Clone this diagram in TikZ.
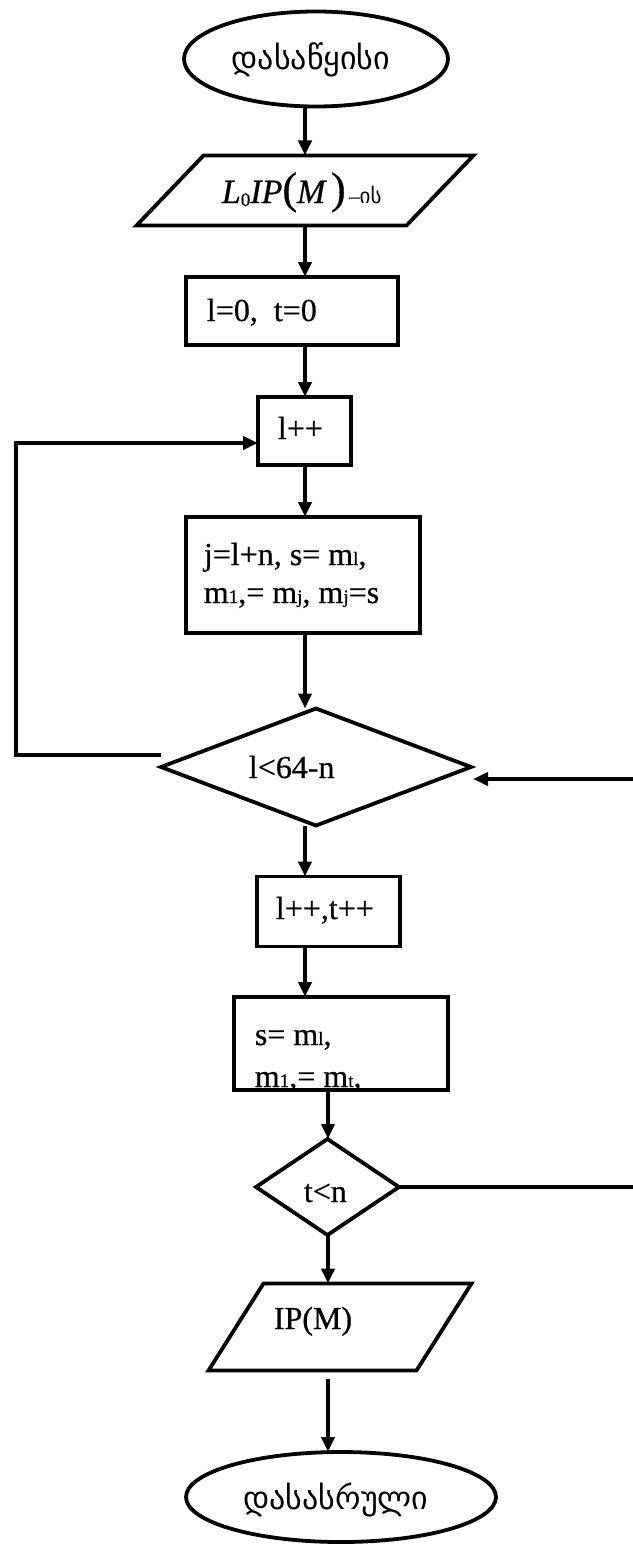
\documentclass[tikz,border=0pt]{standalone}
\usepackage{fontspec}
\setmainfont{Liberation Serif}[FakeBold=0.6]
\newfontfamily\geo{DejaVu Sans}
\usetikzlibrary{shapes.geometric,arrows.meta,calc}
\begin{document}
\begin{tikzpicture}[x=1pt,y=-1pt,
  line width=3.8pt,
  shp/.style={inner sep=0pt, outer sep=0pt, line width=3.8pt},
  box/.style={shp, draw, rectangle},
  term/.style={shp, draw, ellipse},
  dec/.style={shp, draw, diamond},
  ghost/.style={shp, rectangle},
  arr/.style={-{Triangle[length=15pt,width=13pt]}, line width=3.8pt},
  lbl/.style={inner sep=0pt, font=\fontsize{32}{36}\selectfont},
  glbl/.style={inner sep=0pt, font=\geo\fontsize{32}{34}\selectfont},
]
\useasboundingbox (0,0) rectangle (632,1544);
\fill[white] (0,0) rectangle (632,1544);

\def\sm#1{{\fontsize{19}{19}\selectfont #1}}

% spines
\coordinate (s1) at (305,0);
\coordinate (s2) at (328,0);
\coordinate (loopL) at (16,0);
\coordinate (loopR) at (650,0);

% shapes
\node[term, minimum width=264pt, minimum height=95pt] (start) at (316,59) {};
\node[glbl] (tstart) at (311,60) {დასაწყისი};

\node[ghost, minimum width=337pt, minimum height=70pt] (p1) at (305,190.5) {};
\draw[line join=miter] (p1.south west) -- ($(p1.north west)+(67,0)$) -- (p1.north east) -- ($(p1.south east)+(-67,0)$) -- cycle;
\node[lbl, anchor=base west, font=\fontsize{34}{36}\selectfont] (tp1) at (220,203) {\itshape L\raisebox{-3pt}{\upshape\sm{0}}IP\upshape{\fontsize{44}{44}\selectfont(}\itshape M\,\upshape{\fontsize{44}{44}\selectfont)}{\fontsize{21}{21}\selectfont\,–{\geo ის}}};

\node[box, minimum width=212pt, minimum height=68pt] (b1) at (292,311) {};
\node[lbl, anchor=base west] (tb1) at (205,321) {l=0,\ \ t=0};

\node[box, minimum width=93pt, minimum height=68pt] (b2) at (304.5,431) {};
\node[lbl, anchor=base west] (tb2) at (276,439) {l++};

\node[box, minimum width=234pt, minimum height=116pt] (b3) at (303,575) {};
\node[lbl, anchor=base west] (tb3a) at (202,565) {j=l+n, s= m\sm{l},};
\node[lbl, anchor=base west] (tb3b) at (202,603) {m\sm{1},= m\sm{j}, m\sm{j}=s};

\node[dec, minimum width=310pt, minimum height=117pt] (d1) at (316,767) {};
\node[lbl, anchor=base west] (td1) at (247,778) {l<64-n};

\node[box, minimum width=143pt, minimum height=70pt] (b4) at (328.5,911.5) {};
\node[lbl, anchor=base west] (tb4) at (274,919) {l++,t++};

\node[box, minimum width=214pt, minimum height=93pt] (b5) at (341,1043.5) {};
\begin{scope}
\clip ($(b5.south west)+(2,-2)$) rectangle ($(b5.north east)+(-2,2)$);
\node[lbl, anchor=base west] (tb5a) at (253,1045) {s= m\sm{l},};
\node[lbl, anchor=base west] (tb5b) at (253,1087) {m\sm{1},= m\sm{t},};
\end{scope}

\node[dec, minimum width=143pt, minimum height=96pt] (d2) at (327.5,1187) {};
\node[lbl, anchor=base west] (td2) at (302,1202) {t<n};

\node[ghost, minimum width=263pt, minimum height=87pt] (p2) at (340,1327) {};
\draw[line join=miter] (p2.south west) -- ($(p2.north west)+(55,0)$) -- (p2.north east) -- ($(p2.south east)+(-55,0)$) -- cycle;
\node[lbl, anchor=base west] (tp2) at (272,1329) {IP(M)};

\node[term, minimum width=310pt, minimum height=90pt] (end) at (341,1497) {};
\node[glbl] (tend) at (336,1500) {დასასრული};

% connectors
\draw[arr] (start.south -| s1) -- (p1.north -| s1);
\draw[arr] (p1.south -| s1) -- (b1.north -| s1);
\draw[arr] (b1.south -| s1) -- (b2.north -| s1);
\draw[arr] (b2.south -| s1) -- (b3.north -| s1);
\draw[arr] (b3.south -| s1) -- (d1.north -| s1);
\draw[arr] (d1.south -| s1) -- (b4.north -| s1);
\draw[arr] (b4.south -| s1) -- (b5.north -| s1);
\draw[arr] (b5.south -| s2) -- (d2.north -| s2);
\draw[arr] (d2.south -| s2) -- (p2.north -| s2);
\draw[arr] ($(p2.south -| s2)+(0,8)$) -- (end.north -| s2);
\draw[arr] ($(d1.west)+(0,-12)$) -| ($(loopL |- b2.west)+(0,12)$) -- ($(b2.west)+(0,12)$);
\draw[arr] (d2.east) -| ($(loopR |- d1.east)+(0,12)$) -- ($(d1.east)+(2,12)$);
\end{tikzpicture}
\end{document}
